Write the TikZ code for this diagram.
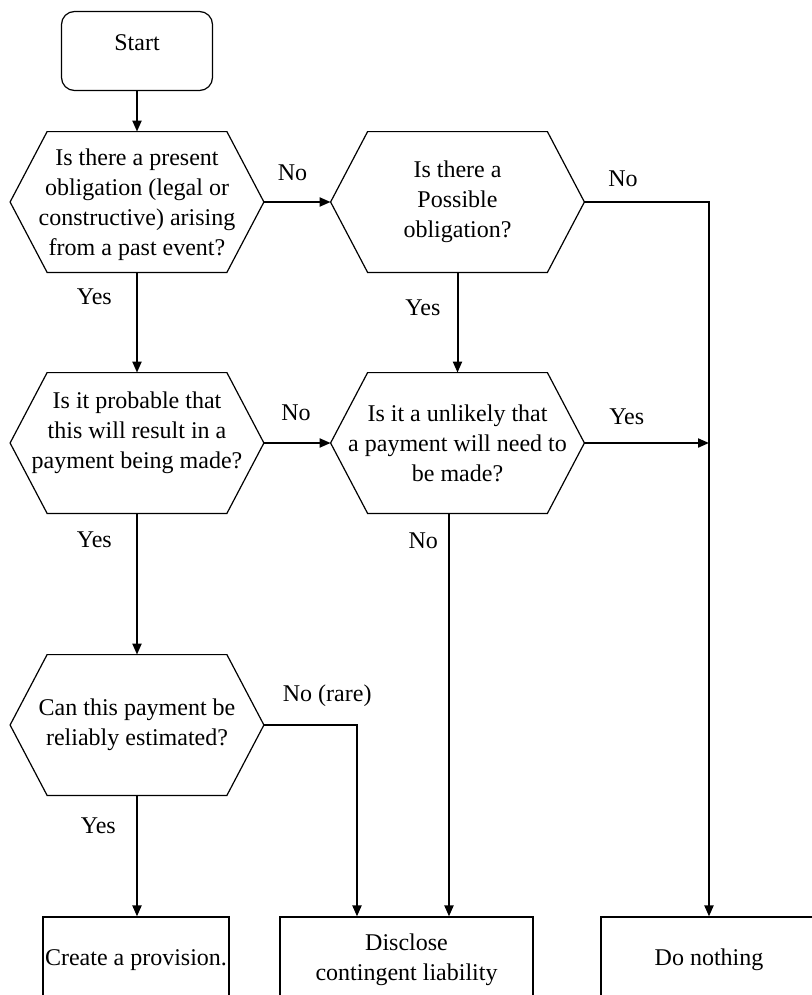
\documentclass[tikz,border=0pt]{standalone}
\usepackage{fontspec}
\setmainfont{Liberation Serif}
\usepackage{tikz}
\usetikzlibrary{arrows.meta}

\begin{document}
\begin{tikzpicture}[x=0.5pt,y=-0.5pt,>={Triangle[length=5.5pt,width=4.5pt]},
        font=\fontsize{12pt}{15pt}\selectfont,
        flow/.style={->,line width=1pt},
        startbox/.style={draw,line width=0.6pt,rounded corners=6.5pt,minimum width=75.5pt,minimum height=39.5pt,text depth=8pt},
        qbox/.style={minimum width=126.5pt,minimum height=70pt,align=center,inner sep=0pt,
                     append after command={\pgfextra{
                       \draw[line width=0.6pt] (\tikzlastnode.west) -- ([xshift=18.5pt]\tikzlastnode.north west)
                         -- ([xshift=-18.5pt]\tikzlastnode.north east) -- (\tikzlastnode.east)
                         -- ([xshift=-18.5pt]\tikzlastnode.south east) -- ([xshift=18.5pt]\tikzlastnode.south west) -- cycle;}}},
        endbox/.style={draw,line width=0.6pt,minimum height=43pt,align=center,inner sep=1pt}]

\useasboundingbox (0,0) rectangle (812,995);
\clip (0,0) rectangle (812,995);

\node[startbox] (start) at (137,51) {Start};
\node[qbox,text depth=-4pt] (h1) at (137,202) {Is there a present\\obligation (legal or\\constructive) arising\\from a past event?};
\node[qbox] (h2) at (457.5,202) {Is there a\\Possible\\obligation?};
\node[qbox,text depth=13pt] (h3) at (137,443) {Is it probable that\\this will result in a\\payment being made?};
\node[qbox] (h4) at (457.5,443) {Is it a unlikely that\\a payment will need to\\be made?};
\node[qbox] (h5) at (137,725) {Can this payment be\\reliably estimated?};

\node[endbox,minimum width=93pt] (provision) at (136,960) {Create a provision.};
\node[endbox,minimum width=126.5pt] (disclose) at (406.5,960) {Disclose\\contingent liability};
\node[endbox,minimum width=108pt] (nothing) at (709,960) {Do nothing};

\coordinate (join) at (nothing.north |- h4.east);

\draw[flow] (start.south) -- (h1.north);
\draw[flow] (h1.east) -- node[pos=.43,above=7pt] {No} (h2.west);
\draw[flow] (h1.south) -- node[pos=.24,left=8.75pt] {Yes} (h3.north);
\draw[flow] (h2.east) -| node[pos=.155,above=4pt] {No} (nothing.north);
\draw[flow] (h2.south) -- node[pos=.35,left=4.75pt] {Yes} (h4.north);
\draw[flow] (h3.east) -- node[pos=.48,above=7.5pt] {No} (h4.west);
\draw[flow] (h3.south) -- node[pos=.19,left=8.75pt] {Yes} (h5.north);
\draw[flow] (h4.east) -- node[pos=.34,above=5.5pt] {Yes} (join);
\draw[flow] ([xshift=-4.25pt]h4.south) -- node[pos=.067,left=1.75pt] {No} ([xshift=-4.25pt]h4.south |- disclose.north);
\draw[flow] (h5.east) -| node[pos=.34,above=5.5pt] {No (rare)} ([xshift=-24.75pt]disclose.north);
\draw[flow] (h5.south) -- node[pos=.25,left=6.75pt] {Yes} (h5.south |- provision.north);

\end{tikzpicture}
\end{document}
